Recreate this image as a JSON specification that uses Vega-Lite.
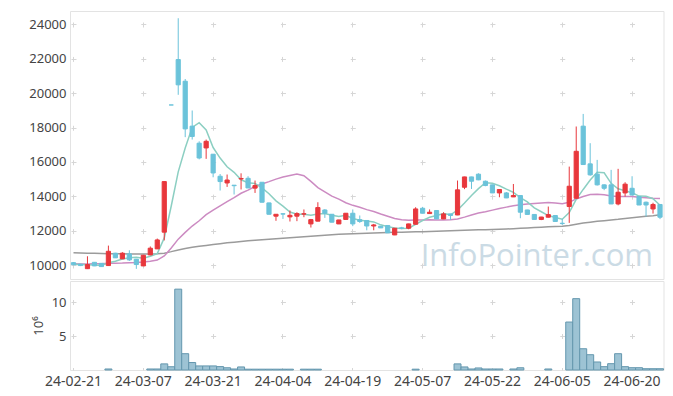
{
  "$schema": "https://vega.github.io/schema/vega-lite/v6.json",
  "padding": {"left": 28, "top": 10, "right": 10, "bottom": 5},
  "autosize": {"type": "pad"},
  "background": "white",
  "config": {
    "view": {"stroke": "#e3e3e3"},
    "concat": {"spacing": 0},
    "axis": {"labelFont": "Noto Sans", "labelColor": "#444", "titleFont": "Noto Sans", "titleColor": "#444", "gridColor": "#d6d6d6", "gridWidth": 1, "labelOverlap": false},
    "axisY": {"labelOverlap": false},
    "axisLeft": {"labelOverlap": false}
  },
  "datasets": {
    "px": [
      {"d":"24-02-21","o":10150,"h":10180,"l":9990,"c":10030,"m5":10050,"m20":10080,"m60":10720,"v":0},
      {"d":"24-02-22","o":10060,"h":10080,"l":9950,"c":9980,"m5":10040,"m20":10070,"m60":10710,"v":0},
      {"d":"24-02-23","o":9800,"h":10520,"l":9780,"c":10040,"m5":10030,"m20":10070,"m60":10700,"v":0},
      {"d":"24-02-26","o":10170,"h":10180,"l":9950,"c":9960,"m5":10010,"m20":10080,"m60":10690,"v":0},
      {"d":"24-02-27","o":10110,"h":10120,"l":9900,"c":9920,"m5":9986,"m20":10090,"m60":10680,"v":0},
      {"d":"24-02-28","o":9980,"h":11140,"l":9970,"c":10810,"m5":10142,"m20":10110,"m60":10670,"v":0.15},
      {"d":"24-02-29","o":10700,"h":10720,"l":10420,"c":10430,"m5":10232,"m20":10120,"m60":10665,"v":0},
      {"d":"24-03-04","o":10370,"h":10760,"l":10360,"c":10700,"m5":10364,"m20":10130,"m60":10660,"v":0},
      {"d":"24-03-05","o":10660,"h":10870,"l":10250,"c":10310,"m5":10434,"m20":10150,"m60":10655,"v":0},
      {"d":"24-03-06","o":10350,"h":10360,"l":9790,"c":10040,"m5":10458,"m20":10162,"m60":10650,"v":0},
      {"d":"24-03-07","o":9960,"h":10600,"l":9950,"c":10580,"m5":10412,"m20":10186,"m60":10650,"v":0},
      {"d":"24-03-08","o":10600,"h":11090,"l":10580,"c":10990,"m5":10524,"m20":10231,"m60":10650,"v":0.15},
      {"d":"24-03-11","o":10950,"h":11550,"l":10940,"c":11470,"m5":10678,"m20":10299,"m60":10660,"v":0.15},
      {"d":"24-03-12","o":11920,"h":14870,"l":11440,"c":14860,"m5":11588,"m20":10537,"m60":10700,"v":0.9},
      {"d":"24-03-13","o":19310,"h":19310,"l":19310,"c":19310,"m5":13442,"m20":10997,"m60":10790,"v":0.48},
      {"d":"24-03-14","o":21950,"h":24350,"l":19900,"c":20480,"m5":15422,"m20":11516,"m60":10890,"v":11.9},
      {"d":"24-03-15","o":20690,"h":20820,"l":17440,"c":17920,"m5":16808,"m20":11907,"m60":10970,"v":2.4},
      {"d":"24-03-18","o":18080,"h":18990,"l":17300,"c":17480,"m5":18010,"m20":12276,"m60":11040,"v":1.1},
      {"d":"24-03-19","o":17090,"h":17200,"l":16150,"c":16230,"m5":18284,"m20":12582,"m60":11100,"v":0.6},
      {"d":"24-03-20","o":16815,"h":17300,"l":16180,"c":17200,"m5":17862,"m20":12937,"m60":11150,"v":0.6},
      {"d":"24-03-21","o":16450,"h":16460,"l":15110,"c":15360,"m5":16838,"m20":13204,"m60":11200,"v":0.6},
      {"d":"24-03-22","o":15170,"h":15300,"l":14340,"c":14860,"m5":16226,"m20":13448,"m60":11250,"v":0.5},
      {"d":"24-03-25","o":14780,"h":15270,"l":14550,"c":14950,"m5":15720,"m20":13693,"m60":11300,"v":0.33},
      {"d":"24-03-26","o":14650,"h":14660,"l":14110,"c":14620,"m5":15398,"m20":13926,"m60":11340,"v":0.15},
      {"d":"24-03-27","o":15010,"h":15340,"l":14400,"c":15040,"m5":14966,"m20":14182,"m60":11380,"v":0.45},
      {"d":"24-03-28","o":15050,"h":15170,"l":14480,"c":14490,"m5":14792,"m20":14366,"m60":11420,"v":0.12},
      {"d":"24-03-29","o":14480,"h":14920,"l":14200,"c":14630,"m5":14746,"m20":14576,"m60":11450,"v":0.12},
      {"d":"24-04-01","o":14820,"h":14830,"l":13650,"c":13660,"m5":14488,"m20":14724,"m60":11480,"v":0.12},
      {"d":"24-04-02","o":13620,"h":13630,"l":12950,"c":12960,"m5":14156,"m20":14857,"m60":11510,"v":0.12},
      {"d":"24-04-03","o":12850,"h":12970,"l":12580,"c":12960,"m5":13740,"m20":15003,"m60":11540,"v":0.12},
      {"d":"24-04-04","o":12990,"h":13020,"l":12690,"c":12970,"m5":13436,"m20":15122,"m60":11570,"v":0.12},
      {"d":"24-04-05","o":12810,"h":13180,"l":12540,"c":12900,"m5":13090,"m20":15218,"m60":11600,"v":0.12},
      {"d":"24-04-08","o":12850,"h":13080,"l":12560,"c":13000,"m5":12958,"m20":15294,"m60":11630,"v":0},
      {"d":"24-04-09","o":12970,"h":13240,"l":12790,"c":12990,"m5":12964,"m20":15201,"m60":11660,"v":0.12},
      {"d":"24-04-11","o":12400,"h":12690,"l":12190,"c":12650,"m5":12902,"m20":14868,"m60":11685,"v":0.12},
      {"d":"24-04-12","o":12560,"h":13660,"l":12550,"c":13350,"m5":12978,"m20":14511,"m60":11710,"v":0.12},
      {"d":"24-04-15","o":13210,"h":13260,"l":12750,"c":13020,"m5":13002,"m20":14266,"m60":11740,"v":0},
      {"d":"24-04-16","o":12960,"h":12970,"l":12490,"c":12500,"m5":12902,"m20":14017,"m60":11770,"v":0},
      {"d":"24-04-17","o":12400,"h":12640,"l":12390,"c":12630,"m5":12830,"m20":13837,"m60":11800,"v":0},
      {"d":"24-04-18","o":12660,"h":13030,"l":12650,"c":13020,"m5":12904,"m20":13628,"m60":11815,"v":0},
      {"d":"24-04-19","o":13020,"h":13240,"l":12270,"c":12400,"m5":12714,"m20":13480,"m60":11830,"v":0},
      {"d":"24-04-22","o":12650,"h":12890,"l":12460,"c":12540,"m5":12618,"m20":13364,"m60":11845,"v":0},
      {"d":"24-04-23","o":12600,"h":12610,"l":12030,"c":12280,"m5":12574,"m20":13231,"m60":11860,"v":0},
      {"d":"24-04-24","o":12280,"h":12400,"l":12030,"c":12340,"m5":12516,"m20":13117,"m60":11875,"v":0},
      {"d":"24-04-25","o":12270,"h":12280,"l":12160,"c":12170,"m5":12346,"m20":12973,"m60":11890,"v":0},
      {"d":"24-04-26","o":12310,"h":12320,"l":11870,"c":11880,"m5":12242,"m20":12843,"m60":11900,"v":0},
      {"d":"24-04-29","o":11760,"h":12160,"l":11750,"c":12150,"m5":12164,"m20":12719,"m60":11910,"v":0},
      {"d":"24-04-30","o":12170,"h":12230,"l":12090,"c":12150,"m5":12138,"m20":12643,"m60":11920,"v":0},
      {"d":"24-05-02","o":12150,"h":12410,"l":12090,"c":12400,"m5":12150,"m20":12615,"m60":11930,"v":0},
      {"d":"24-05-03","o":12380,"h":13370,"l":12370,"c":13270,"m5":12370,"m20":12631,"m60":11940,"v":0.12},
      {"d":"24-05-07","o":13310,"h":13390,"l":13010,"c":13020,"m5":12598,"m20":12633,"m60":11950,"v":0},
      {"d":"24-05-08","o":13000,"h":13240,"l":12990,"c":13080,"m5":12784,"m20":12642,"m60":11960,"v":0},
      {"d":"24-05-09","o":13180,"h":13190,"l":12680,"c":12690,"m5":12892,"m20":12627,"m60":11975,"v":0},
      {"d":"24-05-10","o":12690,"h":13080,"l":12680,"c":12980,"m5":13008,"m20":12626,"m60":11990,"v":0},
      {"d":"24-05-13","o":12980,"h":12990,"l":12630,"c":12890,"m5":12932,"m20":12638,"m60":12000,"v":0},
      {"d":"24-05-14","o":12920,"h":14920,"l":12910,"c":14380,"m5":13204,"m20":12690,"m60":12015,"v":0.9},
      {"d":"24-05-16","o":14530,"h":15140,"l":14420,"c":15130,"m5":13614,"m20":12795,"m60":12030,"v":0.45},
      {"d":"24-05-17","o":15130,"h":15140,"l":14430,"c":14880,"m5":14052,"m20":12914,"m60":12040,"v":0.15},
      {"d":"24-05-20","o":15290,"h":15340,"l":14940,"c":14960,"m5":14448,"m20":13031,"m60":12055,"v":0.3},
      {"d":"24-05-21","o":14880,"h":14920,"l":14590,"c":14630,"m5":14796,"m20":13111,"m60":12065,"v":0.15},
      {"d":"24-05-22","o":14670,"h":14680,"l":14190,"c":14200,"m5":14760,"m20":13201,"m60":12075,"v":0.15},
      {"d":"24-05-23","o":14200,"h":14420,"l":13950,"c":14400,"m5":14614,"m20":13294,"m60":12090,"v":0.15},
      {"d":"24-05-24","o":14200,"h":14250,"l":13900,"c":13910,"m5":14420,"m20":13376,"m60":12105,"v":0},
      {"d":"24-05-27","o":13970,"h":14720,"l":13960,"c":14050,"m5":14238,"m20":13461,"m60":12125,"v":0.15},
      {"d":"24-05-28","o":14050,"h":14060,"l":12730,"c":13080,"m5":13928,"m20":13507,"m60":12145,"v":0.33},
      {"d":"24-05-29","o":13210,"h":13220,"l":12940,"c":12950,"m5":13678,"m20":13560,"m60":12165,"v":0},
      {"d":"24-05-30","o":12950,"h":12960,"l":12650,"c":12660,"m5":13330,"m20":13586,"m60":12190,"v":0},
      {"d":"24-05-31","o":12660,"h":12810,"l":12620,"c":12800,"m5":13108,"m20":13618,"m60":12210,"v":0},
      {"d":"24-06-03","o":12790,"h":13410,"l":12780,"c":12940,"m5":12886,"m20":13645,"m60":12230,"v":0.15},
      {"d":"24-06-04","o":12890,"h":12900,"l":12530,"c":12540,"m5":12778,"m20":13609,"m60":12250,"v":0},
      {"d":"24-06-05","o":12440,"h":12690,"l":12340,"c":12420,"m5":12672,"m20":13579,"m60":12270,"v":0},
      {"d":"24-06-07","o":13410,"h":15730,"l":12460,"c":14590,"m5":13058,"m20":13654,"m60":12310,"v":7.06},
      {"d":"24-06-10","o":13890,"h":18060,"l":13850,"c":16620,"m5":13822,"m20":13851,"m60":12380,"v":10.5},
      {"d":"24-06-11","o":18080,"h":18790,"l":15840,"c":15850,"m5":14404,"m20":13994,"m60":12450,"v":3.13},
      {"d":"24-06-12","o":15890,"h":17090,"l":15200,"c":15250,"m5":14946,"m20":14112,"m60":12500,"v":2.25},
      {"d":"24-06-13","o":15290,"h":16120,"l":14630,"c":14670,"m5":15396,"m20":14127,"m60":12550,"v":1.18},
      {"d":"24-06-14","o":14670,"h":14700,"l":14360,"c":14470,"m5":15372,"m20":14094,"m60":12590,"v":0.49},
      {"d":"24-06-17","o":14670,"h":15540,"l":13550,"c":13560,"m5":14760,"m20":14028,"m60":12630,"v":0.93},
      {"d":"24-06-18","o":13560,"h":15600,"l":13480,"c":14240,"m5":14438,"m20":13992,"m60":12670,"v":2.4},
      {"d":"24-06-19","o":14200,"h":14820,"l":13990,"c":14710,"m5":14330,"m20":13996,"m60":12720,"v":0.49},
      {"d":"24-06-20","o":14470,"h":15170,"l":14070,"c":14080,"m5":14212,"m20":13990,"m60":12760,"v":0.34},
      {"d":"24-06-21","o":13990,"h":14000,"l":13490,"c":13500,"m5":14018,"m20":13945,"m60":12800,"v":0.34},
      {"d":"24-06-24","o":13660,"h":13700,"l":12830,"c":13500,"m5":14006,"m20":13924,"m60":12840,"v":0.19},
      {"d":"24-06-25","o":13270,"h":13630,"l":13000,"c":13530,"m5":13864,"m20":13898,"m60":12880,"v":0.19},
      {"d":"24-06-26","o":13530,"h":13540,"l":12680,"c":12790,"m5":13480,"m20":13884,"m60":12930,"v":0.19}
    ]
  },
  "data": {"name": "px"},
  "resolve": {"scale": {"x": "shared", "y": "independent"}},
  "vconcat": [
    {
      "width": 593.5,
      "height": 268,
      "encoding": {
        "x": {
          "field": "d", "type": "ordinal", "sort": null,
          "scale": {"paddingInner": 0, "paddingOuter": 0,
            "domain": ["24-02-21","24-02-22","24-02-23","24-02-26","24-02-27","24-02-28","24-02-29","24-03-04","24-03-05","24-03-06","24-03-07","24-03-08","24-03-11","24-03-12","24-03-13","24-03-14","24-03-15","24-03-18","24-03-19","24-03-20","24-03-21","24-03-22","24-03-25","24-03-26","24-03-27","24-03-28","24-03-29","24-04-01","24-04-02","24-04-03","24-04-04","24-04-05","24-04-08","24-04-09","24-04-11","24-04-12","24-04-15","24-04-16","24-04-17","24-04-18","24-04-19","24-04-22","24-04-23","24-04-24","24-04-25","24-04-26","24-04-29","24-04-30","24-05-02","24-05-03","24-05-07","24-05-08","24-05-09","24-05-10","24-05-13","24-05-14","24-05-16","24-05-17","24-05-20","24-05-21","24-05-22","24-05-23","24-05-24","24-05-27","24-05-28","24-05-29","24-05-30","24-05-31","24-06-03","24-06-04","24-06-05","24-06-07","24-06-10","24-06-11","24-06-12","24-06-13","24-06-14","24-06-17","24-06-18","24-06-19","24-06-20","24-06-21","24-06-24","24-06-25","24-06-26"]},
          "axis": {"title": null, "labels": false, "ticks": false, "domain": false, "grid": true,
            "values": ["24-02-21","24-03-07","24-03-21","24-04-04","24-04-19","24-05-07","24-05-22","24-06-05","24-06-20"],
            "gridDash": [5, 29.43], "gridDashOffset": 23.43}
        }
      },
      "layer": [
        {
          "mark": {"type": "line", "color": "#9b9b9b", "strokeWidth": 1.5},
          "encoding": {"y": {"field": "m60", "type": "quantitative", "scale": {"domain": [9200, 24770], "nice": false, "zero": false},
            "axis": {"title": null, "tickCount": 8, "labelOverlap": false, "ticks": false, "domain": false, "labelFontSize": 13, "labelPadding": 4, "format": "d", "gridDash": [5, 64.82], "gridDashOffset": 68.83}}}
        },
        {
          "mark": {"type": "line", "color": "#cc8bc2", "strokeWidth": 1.5},
          "encoding": {"y": {"field": "m20", "type": "quantitative", "scale": {"domain": [9200, 24770], "nice": false, "zero": false},
            "axis": {"title": null, "tickCount": 8, "labelOverlap": false, "ticks": false, "domain": false, "labelFontSize": 13, "labelPadding": 4, "format": "d", "gridDash": [5, 64.82], "gridDashOffset": 68.83}}}
        },
        {
          "mark": {"type": "line", "color": "#8ccfc2", "strokeWidth": 1.5},
          "encoding": {"y": {"field": "m5", "type": "quantitative", "scale": {"domain": [9200, 24770], "nice": false, "zero": false},
            "axis": {"title": null, "tickCount": 8, "labelOverlap": false, "ticks": false, "domain": false, "labelFontSize": 13, "labelPadding": 4, "format": "d", "gridDash": [5, 64.82], "gridDashOffset": 68.83}}}
        },
        {
          "mark": {"type": "rule", "strokeWidth": 1},
          "encoding": {
            "y": {"field": "l", "type": "quantitative", "scale": {"domain": [9200, 24770], "nice": false, "zero": false},
              "axis": {"title": null, "tickCount": 8, "labelOverlap": false, "ticks": false, "domain": false, "labelFontSize": 13, "labelPadding": 4, "format": "d", "gridDash": [5, 64.82], "gridDashOffset": 68.83}},
            "y2": {"field": "h"},
            "color": {"condition": {"test": "datum.c > datum.o", "value": "#e8373c"}, "value": "#6bc3da"}
          }
        },
        {
          "mark": {"type": "bar", "width": {"band": 0.6}, "strokeWidth": 1},
          "encoding": {
            "y": {"field": "o", "type": "quantitative", "scale": {"domain": [9200, 24770], "nice": false, "zero": false},
              "axis": {"title": null, "tickCount": 8, "labelOverlap": false, "ticks": false, "domain": false, "labelFontSize": 13, "labelPadding": 4, "format": "d", "gridDash": [5, 64.82], "gridDashOffset": 68.83}},
            "y2": {"field": "c"},
            "color": {"condition": {"test": "datum.c > datum.o", "value": "#e8373c"}, "value": "#6bc3da"},
            "stroke": {"condition": {"test": "datum.c > datum.o", "value": "#e8373c"}, "value": "#6bc3da"}
          }
        },
        {
          "data": {"values": [{"t": "InfoPointer.com"}]},
          "mark": {"type": "text", "font": "Open Sans", "fontSize": 31, "color": "#c6d8e3", "opacity": 0.9, "align": "right", "baseline": "alphabetic"},
          "encoding": {
            "text": {"field": "t"},
            "x": {"datum": "24-06-25"},
            "y": {"datum": 9960, "type": "quantitative", "scale": {"domain": [9200, 24770], "nice": false, "zero": false},
              "axis": {"title": null, "tickCount": 8, "labelOverlap": false, "ticks": false, "domain": false, "labelFontSize": 13, "labelPadding": 4, "format": "d", "gridDash": [5, 64.82], "gridDashOffset": 68.83}}
          }
        }
      ]
    },
    {
      "width": 593.5,
      "height": 89,
      "transform": [{"filter": "datum.v > 0"}],
      "mark": {"type": "bar", "width": {"band": 1}, "fill": "#9dc3d4", "stroke": "#6497ae", "strokeWidth": 1},
      "encoding": {
        "x": {
          "field": "d", "type": "ordinal", "sort": null,
          "scale": {"paddingInner": 0, "paddingOuter": 0},
          "axis": {"title": null, "labelAngle": 0, "labelFontSize": 14, "labelPadding": 4, "ticks": false, "domain": false, "grid": true,
            "values": ["24-02-21","24-03-07","24-03-21","24-04-04","24-04-19","24-05-07","24-05-22","24-06-05","24-06-20"],
            "gridDash": [5, 28.97], "gridDashOffset": 15.41}
        },
        "y": {
          "field": "v", "type": "quantitative",
          "scale": {"domain": [0, 13.1], "nice": false},
          "axis": {"title": "10⁶", "titleFontWeight": "normal", "titleFontSize": 13, "titlePadding": 6, "values": [5, 10], "labelOverlap": false, "ticks": false, "domain": false, "labelFontSize": 13, "labelPadding": 4,
            "gridDash": [5, 64.82], "gridDashOffset": 68.83}
        }
      }
    }
  ]
}
